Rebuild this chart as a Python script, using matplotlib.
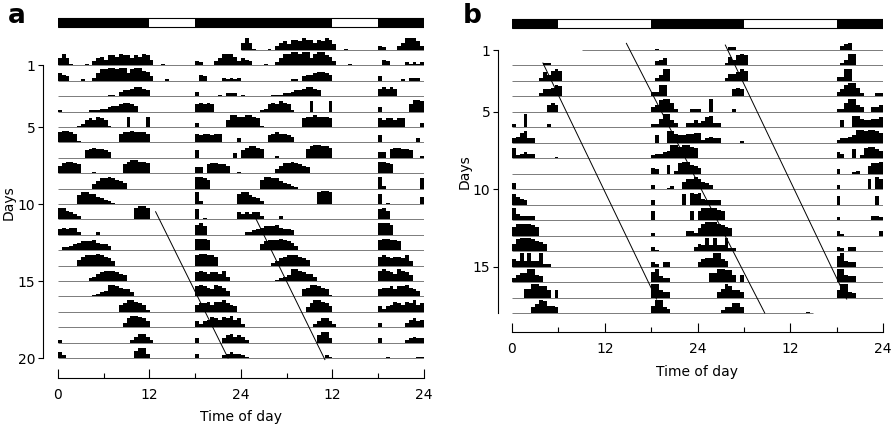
import matplotlib
matplotlib.use("Agg")
import numpy as np
import matplotlib.pyplot as plt
from matplotlib.ticker import FixedLocator

# activity per day: (start hour, heights of successive 0.5 h bins, 0-9)
activity_a = [
    [(0.0, "5851"), (3.5, "1"), (4.5, "3564776877576874"), (13.5, "1"), (18.0, "32"), (20.5, "3588863")],
    [(0.0, "543"), (3.0, "1"), (4.5, "2588998995899763"), (14.0, "1"), (18.5, "43"), (21.5, "212120")],
    [(6.5, "11"), (8.0, "34456654"), (18.0, "3"), (21.0, "10222")],
    [(0.0, "1"), (4.0, "1112234456654"), (18.0, "56565")],
    [(2.5, "125657651"), (9.0, "7"), (11.5, "7"), (18.0, "3"), (22.0, "5887")],
    [(0.0, "788761"), (8.0, "67787776"), (18.0, "6566566"), (23.5, "3")],
    [(3.5, "5676654"), (18.0, "5"), (23.0, "3")],
    [(0.0, "578876"), (4.5, "1"), (8.5, "6899887"), (18.0, "44"), (19.5, "677665"), (23.5, "1")],
    [(4.5, "357787654"), (18.0, "8876")],
    [(2.5, "68877543"), (6.5, "21"), (18.0, "82"), (23.5, "7")],
    [(0.0, "886542"), (10.0, "8998"), (18.0, "7"), (19.0, "1"), (23.5, "5")],
    [(0.0, "454552"), (5.0, "2"), (18.0, "786")],
    [(0.5, "22"), (1.5, "34566675443"), (18.0, "8887")],
    [(2.5, "4677787653"), (18.0, "788776")],
    [(4.0, "2356777654"), (18.0, "676566573")],
    [(4.5, "12348876553"), (18.0, "787658764")],
    [(8.0, "56887651"), (18.0, "56675778654")],
    [(8.5, "3688764"), (18.0, "424576576856")],
    [(0.0, "2"), (9.5, "246642"), (18.0, "3"), (21.5, "35645")],
    [(0.0, "42"), (10.0, "5773"), (18.0, "3"), (21.5, "23433")],
    [(0.0, "21"), (11.0, "21"), (19.0, "1"), (23.0, "11")],
]

activity_b = [
    [(18.5, "1")],
    [(4.0, "22"), (18.5, "345")],
    [(3.5, "264787"), (18.5, "2488")],
    [(3.5, "255687"), (18.0, "3388")],
    [(4.5, "565"), (18.0, "3589962"), (23.0, "22")],
    [(0.0, "2"), (1.5, "9"), (4.5, "2"), (18.0, "2269953"), (22.5, "335")],
    [(0.0, "34783"), (2.5, "3"), (18.5, "5"), (20.0, "88655667")],
    [(0.0, "723433"), (5.5, "1"), (18.0, "233459989987")],
    [(18.0, "43"), (19.5, "06"), (21.0, "278865")],
    [(0.0, "4"), (18.0, "3"), (20.0, "12"), (22.0, "5778")],
    [(0.0, "7543"), (18.0, "3"), (22.0, "7"), (23.0, "87")],
    [(0.0, "843333"), (18.0, "6"), (23.0, "6")],
    [(0.0, "6888876"), (18.0, "2"), (22.5, "33"), (23.5, "2")],
    [(0.0, "58999876"), (4.0, "5"), (18.0, "31"), (23.5, "3")],
    [(0.0, "5494944922"), (18.0, "32"), (19.5, "33")],
    [(0.0, "35669954"), (18.0, "79433")],
    [(1.5, "6699885"), (5.5, "5"), (18.0, "99544")],
    [(2.5, "4698554"), (18.0, "59943")],
    [(3.0, "244774"), (14.0, "1")],
]

# dark phases of the light-dark cycle (hours on the 48 h axis)
dark_a = [(0, 12), (18, 36), (42, 48)]
dark_b = [(0, 6), (18, 30), (42, 48)]

# fitted onset lines: (hour, row) end points
lines_a = [[(12.8, 10.5), (22.3, 20.0)], [(25.9, 10.9), (35.0, 20.1)]]
lines_b = [[(4.0, 1.84), (18.7, 17.1)], [(14.8, 0.57), (32.7, 18.0)], [(27.6, 0.68), (43.3, 17.1)]]

day_ticks_a = [1, 5, 10, 15, 20]
day_ticks_b = [1, 5, 10, 15]
hour_ticks = [0, 12, 24, 36, 48]
hour_labels = ["0", "12", "24", "12", "24"]
minor_hours = [6, 18, 30, 42]

BIN = 0.5
UNIT = 0.095

plt.rcParams["font.family"] = "DejaVu Sans"
plt.rcParams["font.size"] = 10

fig = plt.figure(figsize=(8.93, 4.29), dpi=100)


def expand(day):
    xs, hs = [], []
    for start, codes in day:
        for i, c in enumerate(codes):
            if c != "0":
                xs.append(start + i * BIN)
                hs.append(int(c))
    return np.array(xs), np.array(hs)


def actogram(ax, days, rows, first_day, line_from, line_to, dark, ld_y, ld_h,
             lines, spine_y, spine_x, day_ticks, day_span):
    ax.hlines(rows, line_from, line_to, color="0.4", lw=0.6)
    for r in rows:
        for offset, d in ((0, r), (24, r + 1)):
            i = d - first_day
            if 0 <= i < len(days):
                xs, hs = expand(days[i])
                ax.bar(xs + offset, -UNIT * hs, width=BIN, bottom=r,
                       align="edge", color="black", lw=0)
    # light-dark bar
    ax.barh(ld_y, 48, left=0, height=ld_h, color="white", edgecolor="black", lw=0.8)
    for a, b in dark:
        ax.barh(ld_y, b - a, left=a, height=ld_h, color="black", lw=0)
    for (x0, y0), (x1, y1) in lines:
        ax.plot([x0, x1], [y0, y1], color="black", lw=0.7)

    ax.set_xlim(0, 48)
    for s in ("top", "right"):
        ax.spines[s].set_visible(False)
    ax.spines["bottom"].set_position(("data", spine_y))
    ax.spines["bottom"].set_bounds(0, 48)
    ax.spines["left"].set_position(("data", spine_x))
    ax.spines["left"].set_bounds(*day_span)
    for s in ("bottom", "left"):
        ax.spines[s].set_linewidth(0.8)
    ax.xaxis.set_major_locator(FixedLocator(hour_ticks))
    ax.set_xticklabels(hour_labels)
    ax.xaxis.set_minor_locator(FixedLocator(minor_hours))
    ax.tick_params(axis="x", which="major", direction="in", length=6.8, width=0.8, pad=7)
    ax.tick_params(axis="x", which="minor", direction="in", length=3.4, width=0.8)
    ax.set_yticks(day_ticks)
    ax.tick_params(axis="y", direction="out", length=3.5, width=0.8, pad=2)
    ax.set_xlabel("Time of day")
    ax.set_ylabel("Days")


ax_a = fig.add_axes([58 / 893, 1 - 385 / 429, 366 / 893, 375 / 429])
ax_a.set_ylim(21.75, -2.597)
actogram(ax_a, activity_a, list(range(0, 21)), 1,
         [24] + [0] * 20, [48] * 21, dark_a, -1.786, 0.584,
         lines_a, 21.3, -1.966, day_ticks_a, (1, 20))
ax_a.xaxis.set_label_coords(0.5, -0.068)
ax_a.yaxis.set_label_coords(-0.115, 0.485)

ax_b = fig.add_axes([512 / 893, 1 - 345 / 429, 371 / 893, 335 / 429])
ax_b.set_ylim(20.069, -1.586)
actogram(ax_b, activity_b, list(range(1, 19)), 1,
         [9.0] + [0] * 17, [48] * 17 + [39], dark_b, -0.713, 0.582,
         lines_b, 19.229, -1.81, day_ticks_b, (1, 18))
ax_b.xaxis.set_label_coords(0.5, -0.06)
ax_b.yaxis.set_label_coords(-0.11, 0.519)

fig.text(8 / 893, 1 - 23 / 429, "a", fontsize=19, fontweight="bold")
fig.text(463 / 893, 1 - 23 / 429, "b", fontsize=19, fontweight="bold")

fig.savefig("out.png", dpi=100)
